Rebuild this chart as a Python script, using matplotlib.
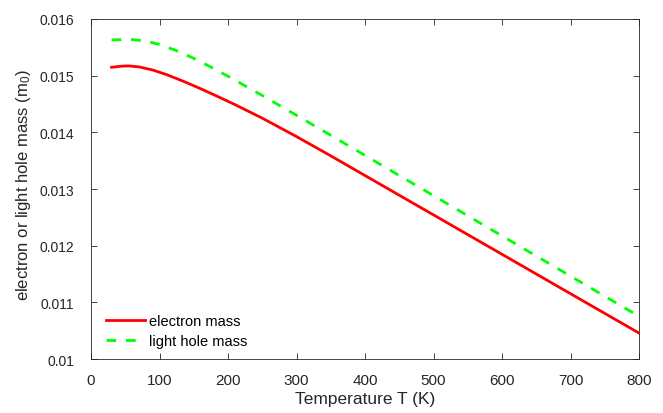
import matplotlib
matplotlib.use('Agg')
import matplotlib.pyplot as plt
from matplotlib.ticker import FuncFormatter

plt.rcParams['font.family'] = ['Liberation Sans', 'DejaVu Sans']
plt.rcParams['mathtext.default'] = 'regular'

# temperature (K) and effective masses (m0)
temp = [30, 45, 55, 70, 90, 110, 135, 160, 185, 210, 250, 300, 350, 400,
        450, 500, 550, 600, 650, 700, 750, 800]
electron_mass = [0.015148, 0.015168, 0.015172, 0.015155, 0.015100, 0.015020,
                 0.014900, 0.014770, 0.014632, 0.014490, 0.014250, 0.013925,
                 0.013585, 0.013238, 0.012890, 0.012543, 0.012195, 0.011848,
                 0.011500, 0.011153, 0.010805, 0.010458]

temp_lh = [30, 45, 60, 80, 100, 125, 150, 175, 200, 250, 300, 350, 400,
           450, 500, 550, 600, 650, 700, 750, 800]
light_hole_mass = [0.015630, 0.015637, 0.015637, 0.015610, 0.015550,
                   0.015440, 0.015305, 0.015152, 0.014990, 0.014650,
                   0.014300, 0.013948, 0.013593, 0.013238, 0.012883,
                   0.012528, 0.012173, 0.011818, 0.011463, 0.011108,
                   0.010753]

axis_col = '#262626'

fig = plt.figure(figsize=(6.63, 4.14), dpi=100)
ax = fig.add_axes([0.1373, 0.1304, 0.8265, 0.8213])

ax.plot(temp, electron_mass, color='#FF0000', lw=2, label='electron mass')
ax.plot(temp_lh, light_hole_mass, color='#00FF00', lw=2, dashes=[3.5, 3.5],
        label='light hole mass')

ax.set_xlim(0, 800)
ax.set_ylim(0.010, 0.016)
ax.set_xticks(range(0, 801, 100))
ax.set_yticks([0.010, 0.011, 0.012, 0.013, 0.014, 0.015, 0.016])
ax.yaxis.set_major_formatter(FuncFormatter(lambda v, p: '%g' % round(v, 4)))

ax.tick_params(direction='in', length=4, width=0.6, top=True, right=True,
               colors=axis_col)
ax.tick_params(axis='x', labelsize=11, pad=10)
ax.tick_params(axis='y', labelsize=10, pad=12)
for s in ax.spines.values():
    s.set_color(axis_col)
    s.set_linewidth(0.6)

ax.set_xlabel('Temperature T (K)', fontsize=12.5, color=axis_col)
ax.xaxis.set_label_coords(0.5, -0.095)
ax.set_ylabel('electron or light hole mass (m$_0$)', fontsize=12,
              color=axis_col)
ax.yaxis.set_label_coords(-0.105, 0.515)

ax.legend(loc='lower left', frameon=False, fontsize=10.5, handlelength=2.65,
          handletextpad=0.3, labelspacing=0.4, borderaxespad=0.35,
          bbox_to_anchor=(0.008, 0.0))

plt.savefig('out.png', dpi=100)
plt.close()
